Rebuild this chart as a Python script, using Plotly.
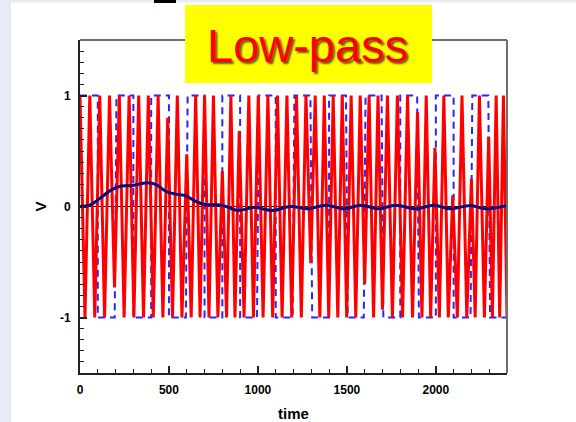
import plotly.graph_objects as go

# --- data -------------------------------------------------------------
# Modulated input signal (vertices of the sampled waveform)
red_t = [0, 28, 55, 83, 111, 138, 166, 194, 221, 248,
         276, 303, 330, 357, 384, 412, 439, 466, 493, 520,
         547, 573, 600, 625, 650, 675, 700, 725, 750, 775,
         800, 824, 848, 871, 895, 922, 949, 975, 1002, 1029,
         1056, 1083, 1110, 1136, 1163, 1190, 1217, 1244, 1270, 1297,
         1322, 1348, 1373, 1398, 1423, 1449, 1474, 1499, 1524, 1550,
         1575, 1600, 1625, 1650, 1675, 1700, 1728, 1756, 1784, 1813,
         1841, 1869, 1897, 1922, 1946, 1971, 1995, 2020, 2045, 2070,
         2095, 2121, 2147, 2174, 2200, 2221, 2245, 2273, 2297, 2318,
         2339, 2359, 2380, 2400]
red_v = [1, -1, 1, -1, 1, -1, 1, -0.73, 1, -1,
         1, -1, 1, -1, 1, -1, 1, -1, 0.8, -1,
         1, -1, 0.47, -1, 1, -1, 1, -1, 1, -1,
         0.32, -1, 1, -1, 0.68, -1, 1, -1, 1, -1,
         1, -1, 1, -1, 1, -1, 1, -1, 1, -0.51,
         1, -1, 1, -1, 1, -1, 1, -1, 1, -1,
         1, -0.7, 1, -1, 1, -0.93, 1, -1, 1, -1,
         1, -1, 0.85, -1, 1, -1, 0.53, -1, 1, -1,
         0.1, -1, 1, -1, 0.25, -1, 1, -1, 0.63, -1,
         1, -1, 1, -1]

# Square-wave reference (dashed)
sq_t = [0, 100, 100, 195, 205, 300, 300, 400, 400, 500,
        500, 595, 605, 700, 700, 800, 800, 900, 900, 995,
        1005, 1100, 1100, 1195, 1205, 1295, 1305, 1400, 1400, 1495,
        1505, 1595, 1605, 1695, 1705, 1800, 1800, 1895, 1905, 2000,
        2000, 2100, 2100, 2195, 2205, 2295, 2305, 2400]
sq_v = [1, 1, -1, -1, 1, 1, -1, -1, 1, 1,
        -1, -1, 1, 1, -1, -1, 1, 1, -1, -1,
        1, 1, -1, -1, 1, 1, -1, -1, 1, 1,
        -1, -1, 1, 1, -1, -1, 1, 1, -1, -1,
        1, 1, -1, -1, 1, 1, -1, -1]

# Low-pass filter output
lp_t = [0, 64, 120, 176, 232, 288, 344, 381, 428, 484,
        531, 587, 643, 699, 774, 821, 886, 980, 1082, 1185,
        1279, 1382, 1484, 1578, 1681, 1774, 1887, 1989, 2082, 2195,
        2279, 2400]
lp_v = [0, 0.02, 0.084, 0.15, 0.184, 0.187, 0.205, 0.214, 0.196, 0.135,
        0.114, 0.1, 0.054, 0.018, 0.015, 0.0, -0.036, -0.01, -0.036, 0.0,
        -0.021, 0.012, -0.021, 0.012, -0.021, 0.012, -0.021, 0.012, -0.021, 0.01,
        -0.021, 0.01]

x_ticks = [0, 500, 1000, 1500, 2000]
y_ticks = [-1, 0, 1]

# --- geometry of the page (pixels) -------------------------------------
W, H = 576, 422
L, R, T, B = 80, 507, 40, 373
pw, ph = R - L, B - T


def px(x):
    return (x - L) / pw


def py(y):
    return (B - y) / ph


bold = dict(family="Liberation Sans, Arial, sans-serif", size=12,
            color="black", weight="bold")

fig = go.Figure()
fig.add_trace(go.Scatter(x=sq_t, y=sq_v, mode="lines",
                         line=dict(color="#2626ff", width=2, dash="7px,5px"),
                         hoverinfo="skip"))
fig.add_trace(go.Scatter(x=red_t, y=red_v, mode="lines",
                         line=dict(color="#ff0000", width=3),
                         hoverinfo="skip"))
fig.add_trace(go.Scatter(x=lp_t, y=lp_v, mode="lines",
                         line=dict(color="#0a0a80", width=3, shape="spline",
                                   smoothing=1.0),
                         hoverinfo="skip"))

shapes = [
    # white slide panel
    dict(type="rect", xref="paper", yref="paper", layer="below",
         x0=px(11), x1=px(W + 5), y0=py(H + 5), y1=py(2.5),
         fillcolor="white", line=dict(width=0)),
    # small dark tab at the top edge
    dict(type="rect", xref="paper", yref="paper", layer="above",
         x0=px(154), x1=px(176), y0=py(3), y1=py(-2),
         fillcolor="black", line=dict(width=0)),
    # top and right frame lines
    dict(type="line", xref="paper", yref="paper", layer="above",
         x0=0, x1=1, y0=1, y1=1, line=dict(color="#6e6e6e", width=2)),
    dict(type="line", xref="paper", yref="paper", layer="above",
         x0=1, x1=1, y0=0, y1=1, line=dict(color="#6e6e6e", width=2)),
    # yellow title box
    dict(type="rect", xref="paper", yref="paper", layer="above",
         x0=px(185), x1=px(432), y0=py(83), y1=py(5),
         fillcolor="#ffff00", line=dict(width=0)),
]

fig.update_layout(
    width=W, height=H,
    margin=dict(l=L, r=W - R, t=T, b=H - B, pad=0, autoexpand=False),
    paper_bgcolor="#e7ebf5",
    plot_bgcolor="white",
    showlegend=False,
    shapes=shapes,
    annotations=[dict(
        text="Low-pass", xref="paper", yref="paper",
        x=px(307), y=py(45), xanchor="center", yanchor="middle",
        showarrow=False,
        font=dict(family="Liberation Sans, Arial, sans-serif", size=47,
                  color="#ff0000", shadow="2px 2px 2px #6a5a00"),
    )],
    xaxis=dict(
        range=[0, 2400], tickvals=x_ticks, ticktext=[str(v) for v in x_ticks],
        ticks="inside", ticklen=7, tickwidth=1.5, tickcolor="#222",
        minor=dict(dtick=100, tick0=0, ticks="inside", ticklen=4,
                   tickwidth=1.2, tickcolor="#222"),
        showgrid=False, zeroline=False, showline=True,
        linecolor="#222", linewidth=2, tickfont=bold,
        ticklabelstandoff=5, automargin=False,
        title=dict(text="time", font=dict(bold, size=15), standoff=14),
    ),
    yaxis=dict(
        range=[-1.5, 1.5], tickvals=y_ticks, ticktext=[str(v) for v in y_ticks],
        ticks="inside", ticklen=7, tickwidth=1.5, tickcolor="#222",
        minor=dict(dtick=0.1, tick0=0, ticks="inside", ticklen=4,
                   tickwidth=1.2, tickcolor="#222"),
        showgrid=False, zeroline=True, zerolinecolor="black",
        zerolinewidth=1.2, showline=True, linecolor="#222", linewidth=2,
        tickfont=bold, ticklabelstandoff=5, automargin=False,
        title=dict(text="V", font=dict(bold, size=15), standoff=10),
    ),
)

fig.write_html("out.html")
